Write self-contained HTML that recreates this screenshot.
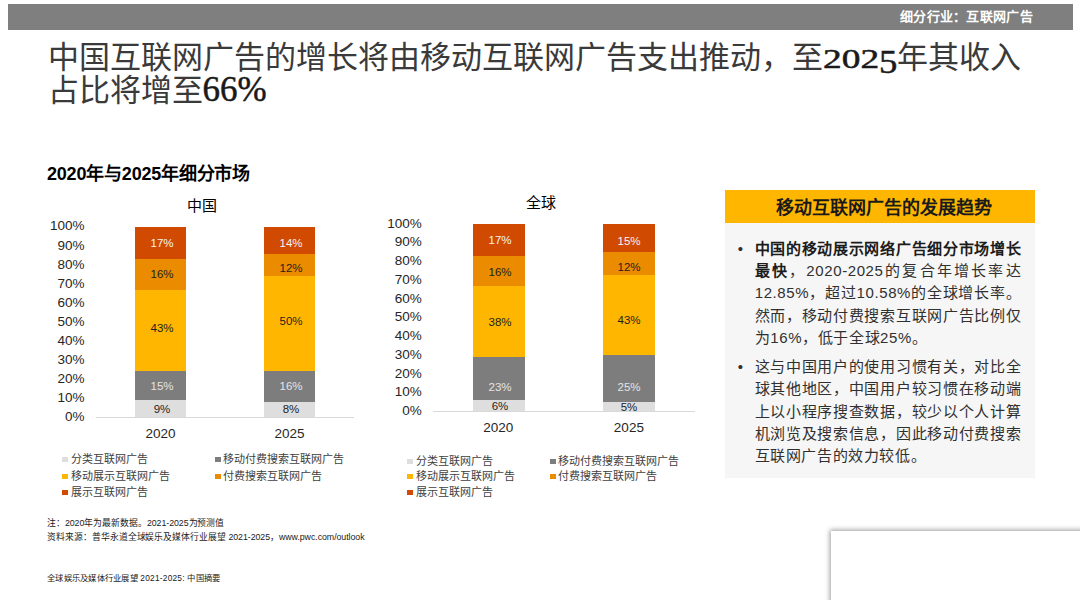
<!DOCTYPE html>
<html lang="zh-CN">
<head>
<meta charset="utf-8">
<style>
*{margin:0;padding:0;box-sizing:border-box}
html,body{width:1080px;height:600px;background:#fff;overflow:hidden}
body{position:relative;font-family:"Liberation Sans",sans-serif;color:#000}
.a{position:absolute;white-space:nowrap}
#hdr{left:8px;top:3.6px;width:1065px;height:26.2px;background:#7f7f7f}
#hdr span{position:absolute;right:40px;top:5.5px;font-size:13px;letter-spacing:0.3px;font-weight:bold;color:#fff;line-height:16px}
#title{left:47.5px;top:40.5px;font-family:"Liberation Serif",serif;font-size:31px;line-height:33.5px;color:#3a3a3a}
#title .os,#title .os5,#title .d66{color:#1a1a1a;-webkit-text-stroke:0.5px #1a1a1a}
#title .os{display:inline-block;font-size:27px;font-weight:normal;width:56.1px;line-height:20px;transform:scaleX(1.385);transform-origin:0 50%}
#title .os5{display:inline-block;font-size:34px;font-weight:normal;width:18.7px;line-height:20px;transform:scaleX(1.08);transform-origin:0 50%;vertical-align:-5.4px}
#title .d66{font-size:35px;line-height:20px}
#sub{left:47px;top:164.2px;font-size:18px;letter-spacing:-0.2px;font-weight:bold;line-height:20px;color:#000}
.ctitle{font-size:15px;line-height:16px;color:#000}
.yl{font-size:13.5px;line-height:14px;color:#262626;text-align:right;width:40px}
.xl{font-size:13.5px;line-height:14px;color:#262626;text-align:center;width:60px}
.bar{position:absolute}
.bar div{position:absolute;left:0;width:100%}
.bl{position:absolute;width:40px;text-align:center;font-size:11.5px;line-height:14px}
.c1{background:#dedede}
.c2{background:#7d7d7d}
.c3{background:#ffb600}
.c4{background:#eb8c00}
.c5{background:#d04a02}
.axis{position:absolute;height:1px;background:#d9d9d9}
.lg{font-size:11px;line-height:12px;color:#404040}
.sq{position:absolute;width:6px;height:5px}
#panel{left:725px;top:190px;width:310px;height:288px;background:#f6f6f6}
#ph{position:absolute;left:0;top:0;width:100%;height:33px;background:#ffb600;font-size:18px;font-weight:bold;line-height:37px;text-align:center;color:#1a1a1a;padding-left:8px}
.pb{position:absolute;left:29.7px;width:266.6px;font-size:15px;letter-spacing:0.6px;line-height:22.4px;color:#303030;text-align:justify;white-space:normal}
.pb b{color:#1c1c1c}
.pb:before{content:"\2022";position:absolute;left:-17px;top:0}
.ln{text-align:justify;text-align-last:justify;white-space:nowrap;height:22.4px}
.ln.last{text-align-last:left}
.note{font-size:8.8px;letter-spacing:-0.05px;line-height:11px;color:#1a1a1a}
#box{left:831px;top:531px;width:260px;height:80px;background:#fff;box-shadow:-1px -1px 5px rgba(0,0,0,0.4)}
</style>
</head>
<body>
<div id="hdr" class="a"><span>细分行业：互联网广告</span></div>
<div id="title" class="a">中国互联网广告的增长将由移动互联网广告支出推动，至<span class="os">202</span><span class="os5">5</span>年其收入<br>占比将增至<span class="d66">66%</span></div>
<div id="sub" class="a">2020年与2025年细分市场</div>

<!-- China chart -->
<div class="a ctitle" style="left:187.2px;top:198px">中国</div>
<div class="a yl" style="left:44.6px;top:219.40px">100%</div>
<div class="a yl" style="left:44.6px;top:238.50px">90%</div>
<div class="a yl" style="left:44.6px;top:257.60px">80%</div>
<div class="a yl" style="left:44.6px;top:276.70px">70%</div>
<div class="a yl" style="left:44.6px;top:295.80px">60%</div>
<div class="a yl" style="left:44.6px;top:314.90px">50%</div>
<div class="a yl" style="left:44.6px;top:334.00px">40%</div>
<div class="a yl" style="left:44.6px;top:353.10px">30%</div>
<div class="a yl" style="left:44.6px;top:372.20px">20%</div>
<div class="a yl" style="left:44.6px;top:391.30px">10%</div>
<div class="a yl" style="left:44.6px;top:410.40px">0%</div>
<div class="axis" style="left:96px;top:417px;width:258px"></div>
<div class="bar" style="left:135px;top:227px;width:51px;height:190px">
 <div class="c5" style="top:0.00px;height:32.30px"></div>
 <div class="c4" style="top:32.30px;height:30.40px"></div>
 <div class="c3" style="top:62.70px;height:81.70px"></div>
 <div class="c2" style="top:144.40px;height:28.50px"></div>
 <div class="c1" style="top:172.90px;height:17.10px"></div>
</div>
<div class="bl" style="left:142.0px;top:236.3px;color:#f4f4f4">17%</div>
<div class="bl" style="left:142.0px;top:267.4px;color:#1e1e1e">16%</div>
<div class="bl" style="left:142.0px;top:320.8px;color:#1e1e1e">43%</div>
<div class="bl" style="left:142.0px;top:378.7px;color:#e4e4e4">15%</div>
<div class="bl" style="left:142.0px;top:402.3px;color:#1e1e1e">9%</div>
<div class="bar" style="left:264px;top:227px;width:51px;height:190px">
 <div class="c5" style="top:0.00px;height:26.60px"></div>
 <div class="c4" style="top:26.60px;height:22.80px"></div>
 <div class="c3" style="top:49.40px;height:95.00px"></div>
 <div class="c2" style="top:144.40px;height:30.40px"></div>
 <div class="c1" style="top:174.80px;height:15.20px"></div>
</div>
<div class="bl" style="left:271.0px;top:236.3px;color:#f4f4f4">14%</div>
<div class="bl" style="left:271.0px;top:261.3px;color:#1e1e1e">12%</div>
<div class="bl" style="left:271.0px;top:313.7px;color:#1e1e1e">50%</div>
<div class="bl" style="left:271.0px;top:378.7px;color:#e4e4e4">16%</div>
<div class="bl" style="left:271.0px;top:402.3px;color:#1e1e1e">8%</div>
<div class="a xl" style="left:130.5px;top:426.8px">2020</div>
<div class="a xl" style="left:259.5px;top:426.8px">2025</div>

<!-- Global chart -->
<div class="a ctitle" style="left:525.7px;top:195.2px">全球</div>
<div class="a yl" style="left:381.8px;top:216.60px">100%</div>
<div class="a yl" style="left:381.8px;top:235.36px">90%</div>
<div class="a yl" style="left:381.8px;top:254.12px">80%</div>
<div class="a yl" style="left:381.8px;top:272.88px">70%</div>
<div class="a yl" style="left:381.8px;top:291.64px">60%</div>
<div class="a yl" style="left:381.8px;top:310.40px">50%</div>
<div class="a yl" style="left:381.8px;top:329.16px">40%</div>
<div class="a yl" style="left:381.8px;top:347.92px">30%</div>
<div class="a yl" style="left:381.8px;top:366.68px">20%</div>
<div class="a yl" style="left:381.8px;top:385.44px">10%</div>
<div class="a yl" style="left:381.8px;top:404.20px">0%</div>
<div class="axis" style="left:433px;top:411px;width:262px"></div>
<div class="bar" style="left:472.5px;top:224px;width:52px;height:187.4px">
 <div class="c5" style="top:0.00px;height:31.86px"></div>
 <div class="c4" style="top:31.86px;height:29.98px"></div>
 <div class="c3" style="top:61.84px;height:71.21px"></div>
 <div class="c2" style="top:133.05px;height:43.10px"></div>
 <div class="c1" style="top:176.15px;height:11.24px"></div>
</div>
<div class="bl" style="left:480.0px;top:233.0px;color:#f4f4f4">17%</div>
<div class="bl" style="left:480.0px;top:265.3px;color:#1e1e1e">16%</div>
<div class="bl" style="left:480.0px;top:314.7px;color:#1e1e1e">38%</div>
<div class="bl" style="left:480.0px;top:379.7px;color:#e4e4e4">23%</div>
<div class="bl" style="left:480.0px;top:399.0px;color:#1e1e1e">6%</div>
<div class="bar" style="left:603px;top:224px;width:52px;height:187.4px">
 <div class="c5" style="top:0.00px;height:28.11px"></div>
 <div class="c4" style="top:28.11px;height:22.49px"></div>
 <div class="c3" style="top:50.60px;height:80.58px"></div>
 <div class="c2" style="top:131.18px;height:46.85px"></div>
 <div class="c1" style="top:178.03px;height:9.37px"></div>
</div>
<div class="bl" style="left:609.0px;top:234.0px;color:#f4f4f4">15%</div>
<div class="bl" style="left:609.0px;top:259.7px;color:#1e1e1e">12%</div>
<div class="bl" style="left:609.0px;top:313.0px;color:#1e1e1e">43%</div>
<div class="bl" style="left:609.0px;top:379.7px;color:#e4e4e4">25%</div>
<div class="bl" style="left:609.0px;top:399.7px;color:#1e1e1e">5%</div>
<div class="a xl" style="left:468.3px;top:421.3px">2020</div>
<div class="a xl" style="left:598.9px;top:421.3px">2025</div>

<!-- Legends -->
<div class="sq c1" style="left:62px;top:457px"></div><div class="a lg" style="left:71px;top:453px">分类互联网广告</div>
<div class="sq c2" style="left:215px;top:457px"></div><div class="a lg" style="left:223px;top:453px">移动付费搜索互联网广告</div>
<div class="sq c3" style="left:62px;top:473.5px"></div><div class="a lg" style="left:71px;top:469.5px">移动展示互联网广告</div>
<div class="sq c4" style="left:215px;top:473.5px"></div><div class="a lg" style="left:223px;top:469.5px">付费搜索互联网广告</div>
<div class="sq c5" style="left:62px;top:490px"></div><div class="a lg" style="left:71px;top:486px">展示互联网广告</div>

<div class="sq c1" style="left:407px;top:459px"></div><div class="a lg" style="left:416px;top:455px">分类互联网广告</div>
<div class="sq c2" style="left:550px;top:459px"></div><div class="a lg" style="left:558px;top:455px">移动付费搜索互联网广告</div>
<div class="sq c3" style="left:407px;top:474px"></div><div class="a lg" style="left:416px;top:470px">移动展示互联网广告</div>
<div class="sq c4" style="left:550px;top:474px"></div><div class="a lg" style="left:558px;top:470px">付费搜索互联网广告</div>
<div class="sq c5" style="left:407px;top:490px"></div><div class="a lg" style="left:416px;top:486px">展示互联网广告</div>

<!-- Panel -->
<div id="panel" class="a">
 <div id="ph">移动互联网广告的发展趋势</div>
 <div class="pb" style="top:47.6px">
  <div class="ln"><b>中国的移动展示网络广告细分市场增长</b></div>
  <div class="ln"><b>最快</b>，2020-2025的复合年增长率达</div>
  <div class="ln">12.85%，超过10.58%的全球增长率。</div>
  <div class="ln">然而，移动付费搜索互联网广告比例仅</div>
  <div class="ln last">为16%，低于全球25%。</div>
 </div>
 <div class="pb" style="top:165.8px">
  <div class="ln">这与中国用户的使用习惯有关，对比全</div>
  <div class="ln">球其他地区，中国用户较习惯在移动端</div>
  <div class="ln">上以小程序搜查数据，较少以个人计算</div>
  <div class="ln">机浏览及搜索信息，因此移动付费搜索</div>
  <div class="ln last">互联网广告的效力较低。</div>
 </div>
</div>

<div class="a note" style="left:47px;top:517.5px">注：2020年为最新数据。2021-2025为预测值</div>
<div class="a note" style="left:47px;top:531.5px">资料来源：普华永道全球娱乐及媒体行业展望 2021-2025，www.pwc.com/outlook</div>
<div class="a note" style="left:47px;top:572.5px;font-size:8.3px;letter-spacing:0.25px">全球娱乐及媒体行业展望 2021-2025: 中国摘要</div>

<div id="box" class="a"></div>
</body>
</html>
